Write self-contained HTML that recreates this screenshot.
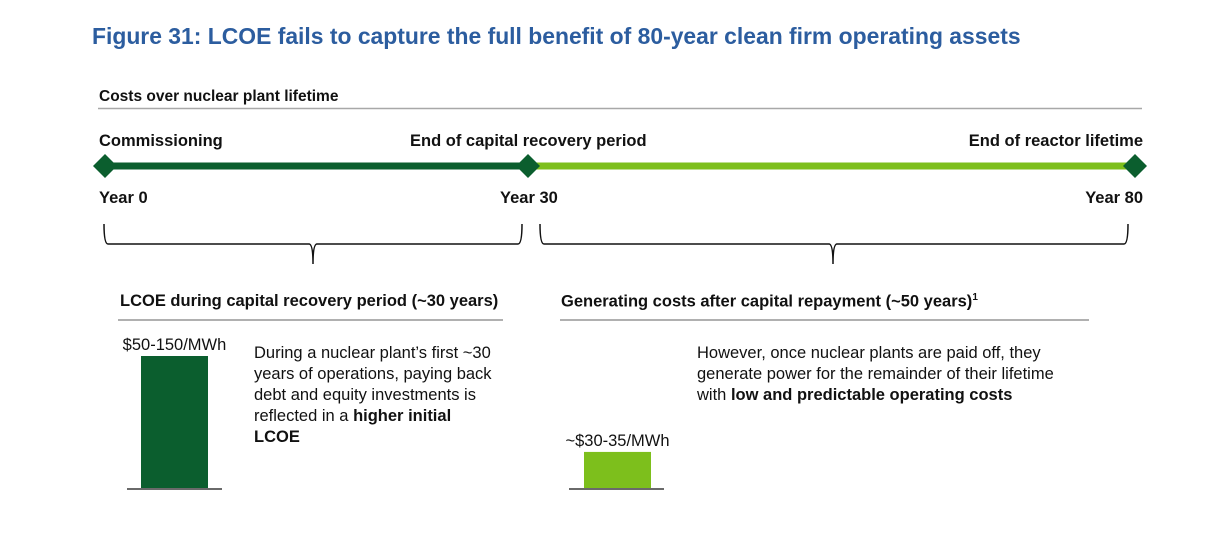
<!DOCTYPE html>
<html><head><meta charset="utf-8">
<style>
body{margin:0;width:1210px;height:542px;background:#fff;position:relative;overflow:hidden;font-family:"Liberation Sans",Arial,sans-serif;color:#111}
.t{position:absolute;white-space:nowrap}
.b{font-weight:bold}
.f{font-size:16.5px}
</style></head>
<body>
<div class="t b" style="left:92px;top:23px;font-size:22.9px;color:#2c5d9f">Figure 31: LCOE fails to capture the full benefit of 80-year clean firm operating assets</div>
<div class="t b" style="left:99px;top:88px;font-size:15.5px">Costs over nuclear plant lifetime</div>
<div class="t b f" style="left:99px;top:132px">Commissioning</div>
<div class="t b f" style="left:410px;top:132px">End of capital recovery period</div>
<div class="t b f" style="right:67px;top:132px">End of reactor lifetime</div>
<div class="t b f" style="left:99px;top:189px">Year 0</div>
<div class="t b f" style="left:500px;top:189px">Year 30</div>
<div class="t b f" style="right:67px;top:189px">Year 80</div>
<div class="t b f" style="left:120px;top:292px">LCOE during capital recovery period (~30 years)</div>
<div class="t b f" style="left:561px;top:292px">Generating costs after capital repayment (~50 years)<sup style="font-size:10px">1</sup></div>
<div class="t f" style="left:254px;top:343px;line-height:21px">During a nuclear plant’s first ~30<br>years of operations, paying back<br>debt and equity investments is<br>reflected in a <b>higher initial</b><br><b>LCOE</b></div>
<div class="t f" style="left:697px;top:343px;line-height:21px">However, once nuclear plants are paid off, they<br>generate power for the remainder of their lifetime<br>with <b>low and predictable operating costs</b></div>
<svg id="svg" width="1210" height="542" style="position:absolute;left:0;top:0">
<line x1="98" y1="108.5" x2="1142" y2="108.5" stroke="#a8a8a8" stroke-width="1.5"/>
<line x1="105" y1="166" x2="528" y2="166" stroke="#0b5e2e" stroke-width="7"/>
<line x1="528" y1="166" x2="1135" y2="166" stroke="#7dbf1c" stroke-width="7"/>
<polygon points="105,154 117,166 105,178 93,166" fill="#0b5e2e"/>
<polygon points="528,154 540,166 528,178 516,166" fill="#0b5e2e"/>
<polygon points="1135,154 1147,166 1135,178 1123,166" fill="#0b5e2e"/>
<path d="M104,224 Q104,244 108,244 L309,244 Q313,244 313,264 Q313,244 317,244 L518,244 Q522,244 522,224" fill="none" stroke="#111" stroke-width="1.5"/>
<path d="M540,224 Q540,244 544,244 L829,244 Q833,244 833,264 Q833,244 837,244 L1124,244 Q1128,244 1128,224" fill="none" stroke="#111" stroke-width="1.5"/>
<line x1="118" y1="320" x2="503" y2="320" stroke="#b0b0b0" stroke-width="2"/>
<line x1="560" y1="320" x2="1089" y2="320" stroke="#b0b0b0" stroke-width="2"/>
<line x1="127" y1="489" x2="222" y2="489" stroke="#111" stroke-width="1.2"/>
<line x1="569" y1="489" x2="664" y2="489" stroke="#111" stroke-width="1.2"/>
</svg>
<script>
const categories = ["LCOE capital recovery", "Post-repayment costs"];
const values = [150, 41];
const valueLabels = ["$50-150/MWh", "~$30-35/MWh"];
const barLefts = [141, 584];
const colors = ["#0b5e2e", "#7dbf1c"];
const baseY = 488, pxPerUnit = 0.88, barW = 67;
const y = v => baseY - v * pxPerUnit;
const svg = document.getElementById('svg');
const NS = 'http://www.w3.org/2000/svg';
categories.forEach((c, i) => {
  const r = document.createElementNS(NS, 'rect');
  r.setAttribute('x', barLefts[i]);
  r.setAttribute('y', y(values[i]));
  r.setAttribute('width', barW);
  r.setAttribute('height', baseY - y(values[i]));
  r.setAttribute('fill', colors[i]);
  
  
  svg.appendChild(r);
  const t = document.createElementNS(NS, 'text');
  t.setAttribute('x', barLefts[i] + barW / 2);
  t.setAttribute('y', y(values[i]) - 6);
  t.setAttribute('text-anchor', 'middle');
  t.setAttribute('font-size', '16.5');
  t.setAttribute('font-family', 'Liberation Sans, Arial, sans-serif');
  t.setAttribute('fill', '#111');
  t.textContent = valueLabels[i];
  
  
  svg.appendChild(t);
});
</script>
</body></html>
